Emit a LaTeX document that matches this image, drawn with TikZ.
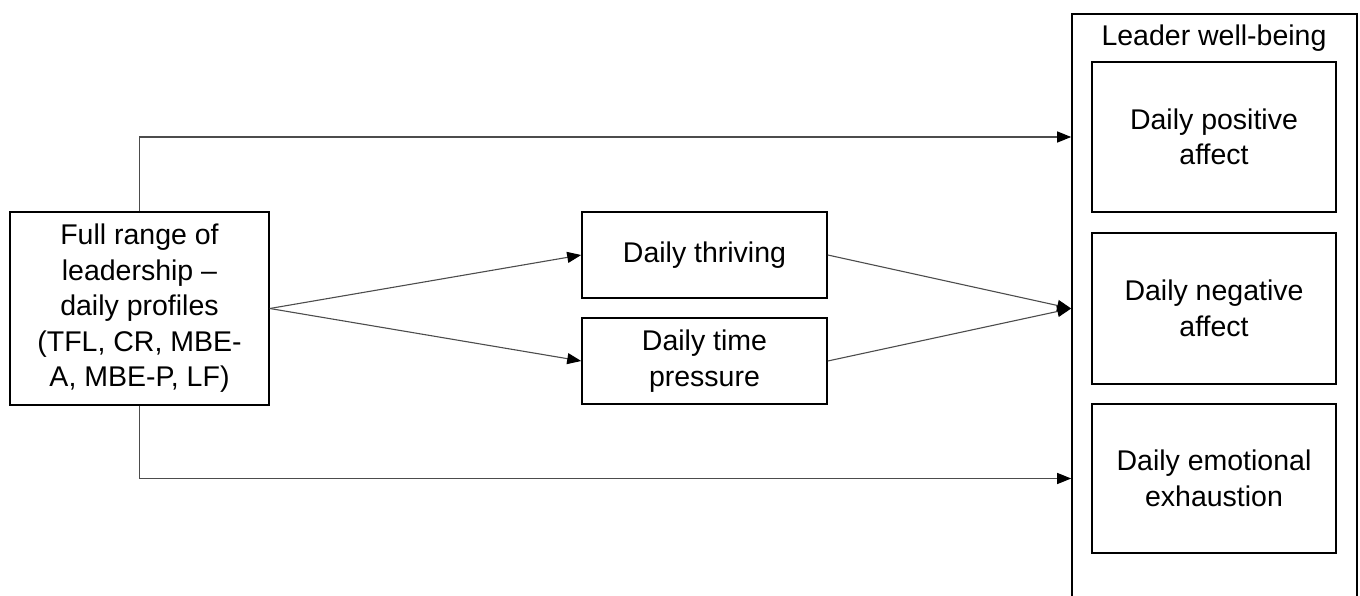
\documentclass[tikz,border=0pt]{standalone}
\usepackage{fontspec}
\setmainfont{Liberation Sans}
\usetikzlibrary{arrows.meta,calc}
\begin{document}
\begin{tikzpicture}[x=1pt,y=-1pt,
  box/.style={draw=black,line width=1.6pt,inner sep=0pt,align=center,
    font=\fontsize{28.5}{35.5}\selectfont},
  txt/.style={inner sep=0pt,font=\fontsize{28.5}{35.5}\selectfont},
  conn/.style={draw=black!70,line width=1.1pt,-{Triangle[length=14pt,width=11pt,fill=black,color=black]}}]
\useasboundingbox (0,0) rectangle (1360,596);
\node[box,minimum width=259pt,minimum height=193pt] (lead) at (139.5,308.5)
  {Full range of\\leadership --\\daily profiles\\(TFL, CR, MBE-\\A, MBE-P, LF)};
\node[box,minimum width=245pt,minimum height=86pt] (thr) at (704.5,255) {Daily thriving};
\node[box,minimum width=245pt,minimum height=86pt] (tp) at (704.5,361) {Daily time\\pressure};
\node[box,minimum width=285pt,minimum height=606pt] (wb) at (1214.5,317) {};
\node[txt] (title) at (1214,38) {Leader well-being};
\node[box,minimum width=244pt,minimum height=150pt] (pa) at (1214,137) {Daily positive\\affect};
\node[box,minimum width=244pt,minimum height=151pt] (na) at (1214,308.5) {Daily negative\\affect};
\node[box,minimum width=244pt,minimum height=149pt] (ee) at (1214,478.5) {Daily emotional\\exhaustion};
\draw[conn] (lead.north) |- (wb.west |- pa.west);
\draw[conn] (lead.south) |- (wb.west |- ee.west);
\draw[conn] (lead.east) -- (thr.west);
\draw[conn] (lead.east) -- (tp.west);
\draw[conn] (thr.east) -- (wb.west |- na.west);
\draw[conn] (tp.east) -- (wb.west |- na.west);
\end{tikzpicture}
\end{document}
